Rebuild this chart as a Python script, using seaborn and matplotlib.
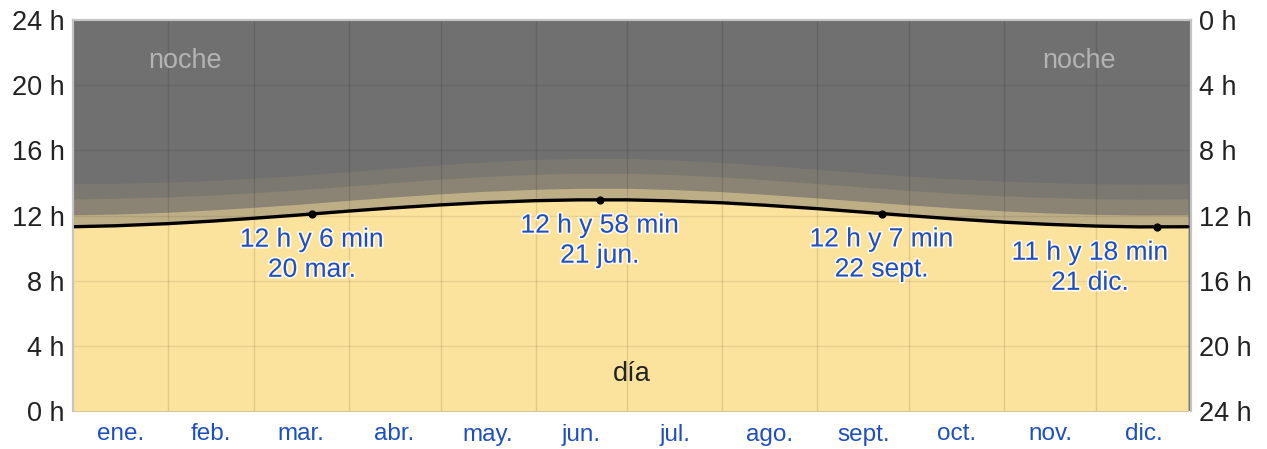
import numpy as np
import pandas as pd
import matplotlib
matplotlib.use("Agg")
import matplotlib.pyplot as plt
import matplotlib.patheffects as pe
import seaborn as sns

# Sample dates (day of year: 1st and 15th of each month, plus 31 Dec)
days = [0, 14, 31, 45, 59, 73, 90, 104, 120, 134, 151, 165,
        181, 195, 212, 226, 243, 257, 273, 287, 304, 318, 334, 348, 364]

# Hours of daylight
day_len = [11.31, 11.37, 11.50, 11.65, 11.83, 12.02, 12.27, 12.46, 12.65, 12.79, 12.91, 12.96,
           12.96, 12.90, 12.78, 12.63, 12.42, 12.22, 11.99, 11.80, 11.59, 11.46, 11.35, 11.30, 11.31]
# Daylight plus civil twilight
civil_len = [12.04, 12.09, 12.20, 12.34, 12.50, 12.68, 12.93, 13.13, 13.33, 13.48, 13.61, 13.67,
             13.67, 13.60, 13.46, 13.30, 13.08, 12.88, 12.65, 12.47, 12.28, 12.16, 12.07, 12.03, 12.04]
# Daylight plus civil and nautical twilight
nautical_len = [13.02, 13.06, 13.14, 13.25, 13.40, 13.57, 13.81, 14.01, 14.23, 14.39, 14.53, 14.59,
                14.59, 14.52, 14.37, 14.19, 13.96, 13.76, 13.54, 13.37, 13.20, 13.11, 13.03, 13.00, 13.02]
# Daylight plus all twilight
astro_len = [13.95, 13.98, 14.05, 14.15, 14.29, 14.45, 14.69, 14.90, 15.12, 15.29, 15.44, 15.50,
             15.50, 15.42, 15.26, 15.08, 14.84, 14.64, 14.42, 14.26, 14.11, 14.02, 13.95, 13.93, 13.95]

# Solstices and equinoxes
event_days = [78, 172, 264, 354]
event_hours = [12.10, 12.967, 12.117, 11.30]
event_labels = ["12 h y 6 min\n20 mar.", "12 h y 58 min\n21 jun.",
                "12 h y 7 min\n22 sept.", "11 h y 18 min\n21 dic."]

month_starts = [0, 31, 59, 90, 120, 151, 181, 212, 243, 273, 304, 334, 365]
month_names = ["ene.", "feb.", "mar.", "abr.", "may.", "jun.",
               "jul.", "ago.", "sept.", "oct.", "nov.", "dic."]

sns.set_theme(style="white")
plt.rcParams["font.family"] = ["Liberation Sans", "DejaVu Sans"]

df = pd.DataFrame({"dia": days, "luz": day_len})

fig = plt.figure(figsize=(12.67, 4.49), dpi=100)
ax = fig.add_axes([73 / 1267, 1 - 411 / 449, (1191 - 73) / 1267, (411 - 20) / 449])

night_c = "#707070"
astro_c = "#7b7870"
naut_c = "#8b8474"
civil_c = "#bdae86"
day_c = "#fbe39d"

ax.set_facecolor(night_c)
ax.fill_between(days, 0, astro_len, color=astro_c, lw=0, zorder=1)
ax.fill_between(days, 0, nautical_len, color=naut_c, lw=0, zorder=1)
ax.fill_between(days, 0, civil_len, color=civil_c, lw=0, zorder=1)
ax.fill_between(days, 0, day_len, color=day_c, lw=0, zorder=1)

# grid
for m in month_starts[1:-1]:
    ax.axvline(m, color="black", alpha=0.11, lw=1, zorder=2)
for h in range(4, 24, 4):
    ax.axhline(h, color="black", alpha=0.08, lw=1, zorder=2)

sns.lineplot(data=df, x="dia", y="luz", ax=ax, color="black", lw=2.4, zorder=4)
ax.scatter(event_days, event_hours, s=24, color="black", zorder=5)

blue = "#1f4fbf"
halo = [pe.withStroke(linewidth=2.5, foreground=(1, 1, 1, 0.8))]
label_x = [78, 172, 264, 332]
for xd, yh, lbl, lx in zip(event_days, event_hours, event_labels, label_x):
    ax.text(lx, yh - 0.85, lbl, ha="center", va="top", fontsize=19, color=blue,
            linespacing=1.32, path_effects=halo, zorder=6)

ax.text(36.5, 21.5, "noche", ha="center", va="center", fontsize=19.5, color="#b4b4b4", zorder=6)
ax.text(328.5, 21.5, "noche", ha="center", va="center", fontsize=19.5, color="#b4b4b4", zorder=6)
ax.text(182.5, 2.25, "día", ha="center", va="center", fontsize=19.5, color="#222222", zorder=6)

ax.set_xlim(0, 365)
ax.set_ylim(0, 24)
ax.set_xlabel("")
ax.set_ylabel("")

mids = [(a + b) / 2 for a, b in zip(month_starts[:-1], month_starts[1:])]
ax.set_xticks(mids)
ax.set_xticklabels(month_names, color=blue, fontsize=17.5)
yt = list(range(0, 25, 4))
ax.set_yticks(yt)
ax.set_yticklabels([f"{h} h" for h in yt], fontsize=19.5, color="#222222")
ax.tick_params(axis="both", length=0)
ax.tick_params(axis="x", pad=9)
ax.tick_params(axis="y", pad=6)

ax2 = ax.twinx()
ax2.set_ylim(0, 24)
ax2.set_yticks(yt)
ax2.set_yticklabels([f"{24 - h} h" for h in yt], fontsize=19.5, color="#222222")
ax2.tick_params(axis="y", length=0, pad=6)

for a in (ax, ax2):
    a.spines["bottom"].set_visible(False)
    for s in ("left", "right", "top"):
        a.spines[s].set_color("#c4c4c4")
        a.spines[s].set_linewidth(1.5)
    a.grid(False)

fig.savefig("out.png", dpi=100, facecolor="white")
